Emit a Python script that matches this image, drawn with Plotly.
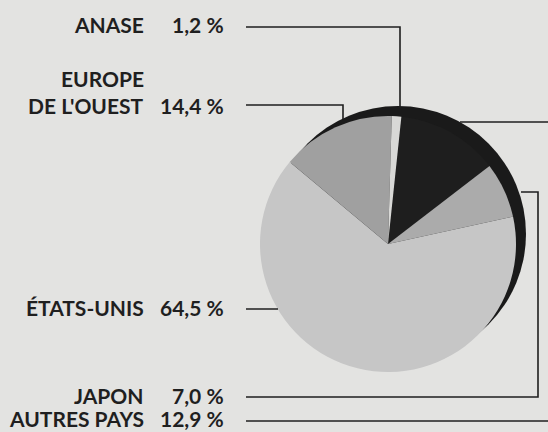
import plotly.graph_objects as go

# ---- data ----
regions = ["AUTRES PAYS", "JAPON", "ÉTATS-UNIS", "EUROPE DE L'OUEST", "ANASE"]
shares = [12.9, 7.0, 64.5, 14.4, 1.2]
label_names = {
    "ANASE": ["ANASE"],
    "EUROPE DE L'OUEST": ["EUROPE", "DE L'OUEST"],
    "ÉTATS-UNIS": ["ÉTATS-UNIS"],
    "JAPON": ["JAPON"],
    "AUTRES PAYS": ["AUTRES PAYS"],
}
slice_colors = ["#1e1e1e", "#ababab", "#c6c6c6", "#a0a0a0", "#d8d8d6"]

W, H = 548, 432
BG = "#e3e3e1"
INK = "#1f1f1f"


def px(x):
    return x / W


def py(y):
    return 1 - y / H


def fmt(v):
    return f"{v:.1f}".replace(".", ",") + " %"


# pie geometry (pixels)
cx, cy, r = 388, 244, 128
sx, sy = 398, 234  # shadow disc centre

fig = go.Figure()

# dark rim / shadow behind the pie
fig.add_trace(go.Pie(
    values=[1], labels=["rim"], sort=False,
    marker=dict(colors=["#1a1a1a"], line=dict(width=0)),
    textinfo="none", hoverinfo="skip", showlegend=False,
    domain=dict(x=[px(sx - r), px(sx + r)], y=[py(sy + r), py(sy - r)]),
))

fig.add_trace(go.Pie(
    values=shares, labels=regions, sort=False, direction="clockwise",
    rotation=6,
    marker=dict(colors=slice_colors, line=dict(width=0)),
    textinfo="none", hoverinfo="label+value", showlegend=False,
    domain=dict(x=[px(cx - r), px(cx + r)], y=[py(cy + r), py(cy - r)]),
))

# label layout (pixel positions)
name_right = 146
pct_right = 226
label_rows = {
    "ANASE": [25],
    "EUROPE DE L'OUEST": [79, 105],
    "ÉTATS-UNIS": [307],
    "JAPON": [395],
    "AUTRES PAYS": [418],
}

annotations = []
font = dict(family="Lato", size=21, color=INK, weight="bold")
for reg, val in zip(regions, shares):
    ys = label_rows[reg]
    for line, yy in zip(label_names[reg], ys):
        annotations.append(dict(
            x=px(name_right), y=py(yy), xref="paper", yref="paper",
            text=line, showarrow=False, xanchor="right", yanchor="middle",
            font=font,
        ))
    annotations.append(dict(
        x=px(pct_right), y=py(ys[-1]), xref="paper", yref="paper",
        text=fmt(val), showarrow=False, xanchor="right", yanchor="middle",
        font=font,
    ))

# leader lines (pixel polylines)
leaders = [
    [(246, 27), (400, 27), (400, 108)],            # ANASE
    [(246, 105), (343, 105), (343, 119)],           # EUROPE
    [(246, 309), (278, 309)],                       # ETATS-UNIS
    [(246, 397), (538, 397), (538, 192), (521, 192)],  # JAPON
    [(246, 421), (548, 421)],                       # AUTRES PAYS
    [(460, 122), (548, 122)],                       # AUTRES PAYS (top)
]
shapes = []
for pts in leaders:
    path = "M " + " L ".join(f"{px(x):.5f},{py(y):.5f}" for x, y in pts)
    shapes.append(dict(type="path", path=path, xref="paper", yref="paper",
                       line=dict(color=INK, width=1.6)))

fig.update_layout(
    width=W, height=H,
    margin=dict(l=0, r=0, t=0, b=0),
    paper_bgcolor=BG, plot_bgcolor=BG,
    annotations=annotations, shapes=shapes,
    showlegend=False,
)

fig.write_html(
    "out.html",
    config={"displayModeBar": False},
    post_script="document.body.style.margin='0';document.body.style.background='%s';" % BG,
)
